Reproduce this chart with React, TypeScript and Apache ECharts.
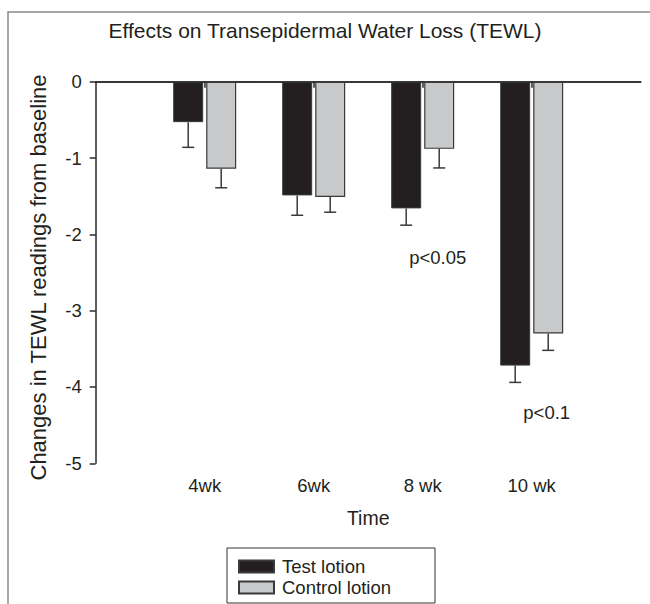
import React, { useEffect, useRef } from "react";
import * as echarts from "echarts";

const categories = ["", "4wk", "6wk", "8 wk", "10 wk", ""];
const testValues = [-0.53, -1.49, -1.66, -3.72];
const testErrors = [0.33, 0.26, 0.22, 0.22];
const controlValues = [-1.14, -1.51, -0.88, -3.3];
const controlErrors = [0.25, 0.2, 0.25, 0.22];
const yTicks = { min: -5, max: 0, interval: 1 };
const annotations = [
  { text: "p<0.05", cat: 3, y: -2.31 },
  { text: "p<0.1", cat: 4, y: -4.34 },
];

const FONT = "'Liberation Sans', Arial, Helvetica, sans-serif";
const TXT = "#231f20";
const AX = "#2b2b2b";

export default function App() {
  const ref = useRef<HTMLDivElement>(null);
  useEffect(() => {
    if (!ref.current) return;
    const chart = echarts.init(ref.current, null, { renderer: "svg" });
    const barW = 30;
    const gap = 3;
    const off = (barW + gap) / 2;
    const errSeries = (vals: number[], errs: number[], dx: number, name: string) => ({
      type: "custom",
      name,
      xAxisIndex: 0,
      yAxisIndex: 0,
      silent: true,
      z: 5,
      encode: { x: 0, y: 1 },
      data: vals.map((v, i) => [i + 1, v, errs[i]]),
      renderItem: (_p: any, api: any) => {
        const c = api.value(0);
        const v = api.value(1);
        const e = api.value(2);
        const a = api.coord([c, v]);
        const b = api.coord([c, v - e]);
        const x = a[0] + dx;
        const st = { stroke: "#3a3a3a", lineWidth: 1.5 };
        return {
          type: "group",
          children: [
            { type: "line", shape: { x1: x, y1: a[1], x2: x, y2: b[1] }, style: st },
            { type: "line", shape: { x1: x - 6, y1: b[1], x2: x + 6, y2: b[1] }, style: st },
          ],
        };
      },
    });
    const option: any = {
      animation: false,
      backgroundColor: "#ffffff",
      textStyle: { fontFamily: FONT },
      title: {
        text: "Effects on Transepidermal Water Loss (TEWL)",
        left: "center",
        top: 15,
        textStyle: { fontFamily: FONT, fontSize: 21, fontWeight: "normal", color: TXT },
      },
      legend: {
        orient: "vertical",
        left: 227,
        top: 548,
        height: 120,
        data: ["Test lotion", "Control lotion"],
        icon: "rect",
        itemWidth: 35,
        itemHeight: 12,
        itemGap: 2,
        padding: [9, 44, 6, 11],
        borderColor: "#333",
        borderWidth: 1,
        textStyle: { fontFamily: FONT, fontSize: 18.5, color: TXT, padding: [0, 0, 0, 3] },
      },
      grid: { left: 95.7, right: 9.3, top: 81.7, bottom: 140.7, containLabel: false },
      xAxis: [
        {
          type: "category",
          data: categories,
          boundaryGap: false,
          position: "bottom",
          name: "Time",
          nameLocation: "middle",
          nameGap: 45,
          nameTextStyle: { fontFamily: FONT, fontSize: 19.5, color: TXT },
          axisLine: { show: true, lineStyle: { color: AX, width: 1.5 } },
          axisTick: {
            show: true,
            length: 6,
            interval: (_i: number, v: string) => v !== "",
            lineStyle: { color: AX, width: 1.5 },
          },
          axisLabel: { interval: 0, margin: 13, fontFamily: FONT, fontSize: 18.5, color: TXT },
          splitLine: { show: false },
        },
        {
          type: "category",
          data: categories,
          boundaryGap: false,
          position: "top",
          axisLine: { show: true, lineStyle: { color: AX, width: 1.5 } },
          axisTick: { show: false },
          axisLabel: { show: false },
          splitLine: { show: false },
        },
      ],
      yAxis: {
        type: "value",
        min: yTicks.min,
        max: yTicks.max,
        interval: yTicks.interval,
        name: "Changes in TEWL readings from baseline",
        nameLocation: "middle",
        nameGap: 46,
        nameTextStyle: { fontFamily: FONT, fontSize: 22, color: TXT, padding: [0, 10, 0, 0] },
        axisLine: { show: true, lineStyle: { color: AX, width: 1.5 } },
        axisTick: { show: true, length: 6, lineStyle: { color: AX, width: 1.5 } },
        axisLabel: { margin: 14, fontFamily: FONT, fontSize: 18.5, color: TXT },
        splitLine: { show: false },
      },
      graphic: [
        {
          type: "rect",
          shape: { x: 8, y: 12, width: 700, height: 700 },
          style: { fill: "none", stroke: "#8a8a8a", lineWidth: 1.5 },
          silent: true,
          z: -1,
        },
      ],
      series: [
        {
          type: "bar",
          name: "Test lotion",
          barWidth: barW,
          barGap: "10%",
          data: testValues.map((v, i) => [i + 1, v]),
          itemStyle: { color: "#231f20", borderColor: "#3a3a3a", borderWidth: 1 },
          z: 3,
        },
        {
          type: "bar",
          name: "Control lotion",
          barWidth: barW,
          barGap: "10%",
          data: controlValues.map((v, i) => [i + 1, v]),
          itemStyle: { color: "#c8c9cb", borderColor: "#3a3a3a", borderWidth: 1.2 },
          z: 3,
        },
        errSeries(testValues, testErrors, -off, "errTest"),
        errSeries(controlValues, controlErrors, off, "errControl"),
        {
          type: "scatter",
          name: "annotations",
          symbolSize: 1,
          silent: true,
          itemStyle: { opacity: 1, color: "rgba(0,0,0,0)" },
          data: annotations.map((a) => ({ value: [a.cat, a.y], name: a.text })),
          label: {
            show: true,
            position: "inside",
            offset: [15, 0],
            formatter: (p: any) => p.name,
            fontFamily: FONT,
            fontSize: 18.5,
            color: TXT,
            opacity: 1,
          },
        },
      ],
    };
    chart.setOption(option);
    return () => chart.dispose();
  }, []);
  return (
    <div
      ref={ref}
      style={{ position: "absolute", left: 0, top: 0, width: 650, height: 604, background: "#fff" }}
    />
  );
}
